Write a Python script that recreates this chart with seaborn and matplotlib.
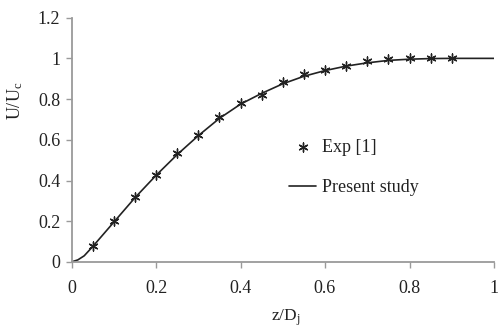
import numpy as np
import pandas as pd
import matplotlib
matplotlib.use("Agg")
import matplotlib.pyplot as plt
import seaborn as sns

# Experimental data (Exp [1])
exp_x = [0.05, 0.10, 0.15, 0.20, 0.25, 0.30, 0.35, 0.40, 0.45, 0.50,
         0.55, 0.60, 0.65, 0.70, 0.75, 0.80, 0.85, 0.90]
exp_y = [0.08, 0.20, 0.32, 0.427, 0.533, 0.623, 0.71, 0.78, 0.82, 0.885,
         0.922, 0.943, 0.964, 0.985, 0.996, 1.0, 1.0, 1.0]

# Present study curve
cur_x = [0.0, 0.015, 0.03, 0.05, 0.10, 0.15, 0.20, 0.25, 0.30, 0.35, 0.40,
         0.45, 0.50, 0.55, 0.60, 0.65, 0.70, 0.75, 0.80, 0.85, 0.90, 0.95, 1.0]
cur_y = [0.0, 0.01, 0.03, 0.075, 0.195, 0.315, 0.425, 0.527, 0.62, 0.705, 0.775,
         0.828, 0.875, 0.912, 0.94, 0.962, 0.978, 0.99, 0.996, 0.999, 1.0, 1.0, 1.0]

x_ticks = [0, 0.2, 0.4, 0.6, 0.8, 1]
x_ticklabels = ["0", "0.2", "0.4", "0.6", "0.8", "1"]
y_ticks = [0, 0.2, 0.4, 0.6, 0.8, 1.0, 1.2]
y_ticklabels = ["0", "0.2", "0.4", "0.6", "0.8", "1", "1.2"]

sns.set_style("white")
plt.rcParams['font.family'] = ['Liberation Serif', 'DejaVu Serif']
plt.rcParams['mathtext.fontset'] = 'custom'
plt.rcParams['mathtext.rm'] = 'Liberation Serif'
plt.rcParams['mathtext.it'] = 'Liberation Serif'

fig = plt.figure(figsize=(5.0, 3.27), dpi=100)
ax = fig.add_axes([0.143, 0.199, 0.845, 0.747])

exp_df = pd.DataFrame({"x": exp_x, "y": exp_y})
cur_df = pd.DataFrame({"x": cur_x, "y": cur_y})

sns.scatterplot(data=exp_df, x="x", y="y", ax=ax, marker=(6, 2, 0), s=42,
                color="#222222", linewidth=1.0, label="Exp [1]", zorder=3)
sns.lineplot(data=cur_df, x="x", y="y", ax=ax, color="#222222", linewidth=1.2,
             label="Present study", zorder=2)

ax.set_xlim(0, 1)
ax.set_ylim(0, 1.2)
ax.set_xticks(x_ticks)
ax.set_xticklabels(x_ticklabels)
ax.set_yticks(y_ticks)
ax.set_yticklabels(y_ticklabels)

for s in ["top", "right"]:
    ax.spines[s].set_visible(False)
for s in ["left", "bottom"]:
    ax.spines[s].set_color("#9a9a9a")
    ax.spines[s].set_linewidth(1.3)

ax.tick_params(axis="both", direction="out", length=4, width=1.0, color="#9a9a9a",
               labelsize=13, labelcolor="#222222")
ax.tick_params(axis="x", pad=9)
ax.tick_params(axis="y", pad=4)
ax.tick_params(left=True, bottom=True)

ax.set_xlabel("z/D$_\\mathrm{j}$", fontsize=12.5, color="#222222")
ax.set_ylabel("U/U$_\\mathrm{c}$", fontsize=13, color="#222222")
ax.xaxis.set_label_coords(0.507, -0.185)
ax.yaxis.set_label_coords(-0.11, 0.66)

leg = ax.legend(loc="upper left", bbox_to_anchor=(0.515, 0.505), frameon=False,
                fontsize=13, handlelength=1.5, handletextpad=0.3,
                labelspacing=1.3, borderpad=0, borderaxespad=0)
for t in leg.get_texts():
    t.set_color("#222222")

fig.savefig("out.png", dpi=100, facecolor="white")
